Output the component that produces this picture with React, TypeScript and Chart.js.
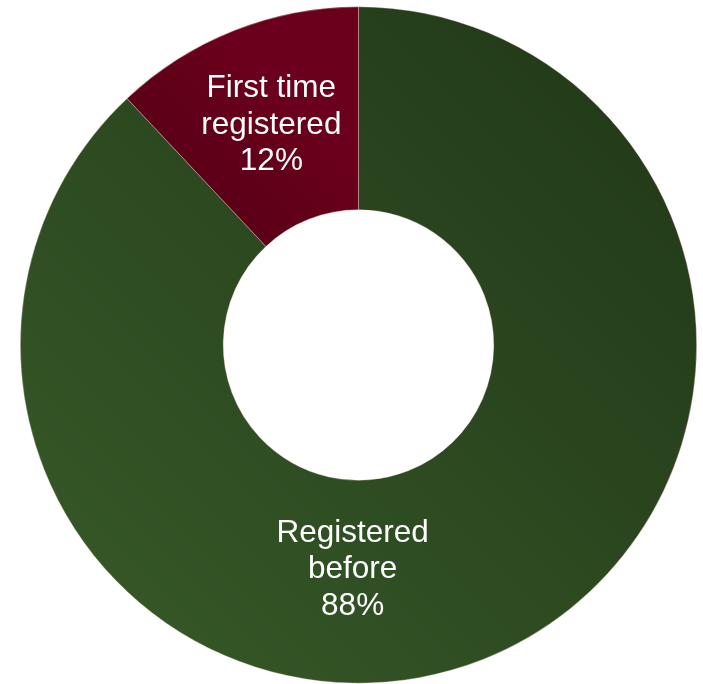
import React, { useEffect, useRef } from "react";
import { Chart, registerables } from "chart.js";

Chart.register(...registerables);

const categories: string[][] = [["Registered", "before"], ["First time", "registered"]];
const values: number[] = [88, 12];
const percentLabels: string[] = ["88%", "12%"];

// label placement: angle (radians, clockwise from top) offset and radial fraction per slice
const labelPlacement = [
  { angle: (181.5 / 180) * Math.PI, frac: 0.44 },
  { angle: null as number | null, frac: 0.5 },
];

const labelPlugin = {
  id: "sliceLabels",
  afterDatasetsDraw(chart: any) {
    const ctx = chart.ctx;
    const meta = chart.getDatasetMeta(0);
    ctx.save();
    ctx.fillStyle = "#ffffff";
    ctx.font = '31.5px "Liberation Sans", Arial, sans-serif';
    ctx.textAlign = "center";
    ctx.textBaseline = "middle";
    meta.data.forEach((arc: any, i: number) => {
      const p = arc.getProps(["x", "y", "startAngle", "endAngle", "innerRadius", "outerRadius"], true);
      const place = labelPlacement[i];
      const a =
        place.angle === null ? (p.startAngle + p.endAngle) / 2 : place.angle - Math.PI / 2;
      const r = p.innerRadius + (p.outerRadius - p.innerRadius) * place.frac;
      const cx = p.x + Math.cos(a) * r;
      const cy = p.y + Math.sin(a) * r;
      const lines = [...categories[i], percentLabels[i]];
      const lh = 36.5;
      lines.forEach((t, k) => {
        ctx.fillText(t, cx, cy + (k - (lines.length - 1) / 2) * lh);
      });
    });
    ctx.restore();
  },
};

export default function App() {
  const ref = useRef<HTMLCanvasElement | null>(null);
  useEffect(() => {
    if (!ref.current) return;
    const chart = new Chart(ref.current, {
      type: "doughnut",
      data: {
        labels: categories.map((c) => c.join(" ")),
        datasets: [
          {
            data: values,
            backgroundColor: (context: any) => {
              const ch = context.chart;
              const area = ch.chartArea;
              if (!area) return context.dataIndex === 0 ? "#2c4a20" : "#5a0016";
              const g = ch.ctx.createLinearGradient(area.left, area.bottom, area.right, area.top);
              if (context.dataIndex === 0) {
                g.addColorStop(0, "#385b29");
                g.addColorStop(1, "#203617");
              } else {
                g.addColorStop(0.3, "#420010");
                g.addColorStop(0.62, "#6a001b");
              }
              return g;
            },
            borderColor: "rgba(255,220,220,0.5)",
            borderWidth: 0.7,
            hoverOffset: 0,
          },
        ],
      },
      options: {
        responsive: true,
        maintainAspectRatio: false,
        animation: false,
        events: [],
        cutout: "40%",
        layout: { padding: { left: 20, right: 6, top: 6.5, bottom: 0.5 } },
        plugins: {
          legend: { display: false },
          tooltip: { enabled: false },
        },
      },
      plugins: [labelPlugin],
    });
    return () => chart.destroy();
  }, []);
  return (
    <div style={{ position: "absolute", left: 0, top: 0, width: 703, height: 684 }}>
      <canvas ref={ref} />
    </div>
  );
}
